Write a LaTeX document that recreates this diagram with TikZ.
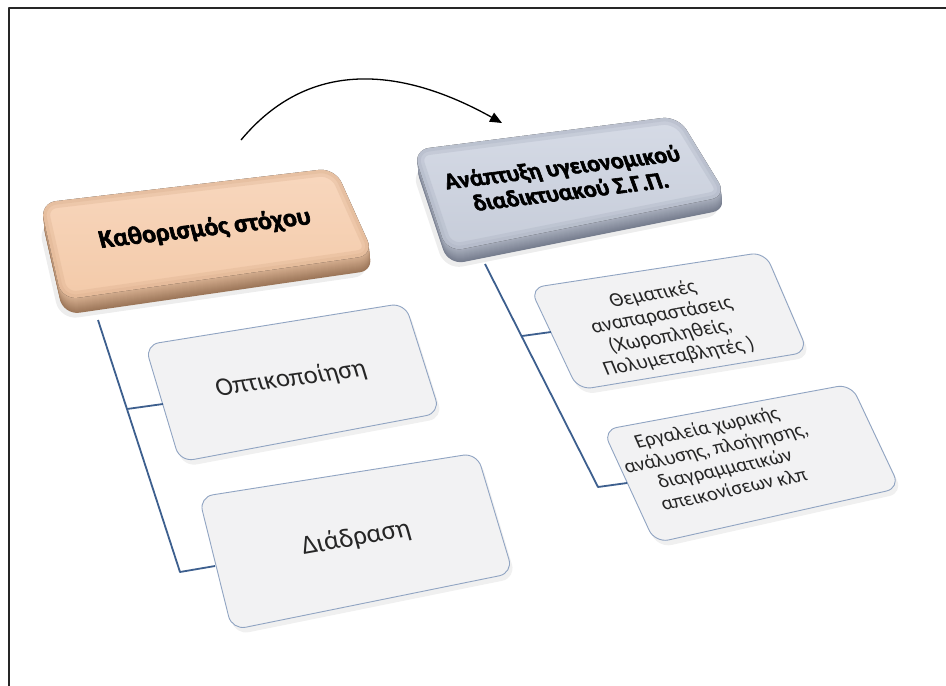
\documentclass[tikz,border=0pt]{standalone}
\usepackage{fontspec}
\setmainfont{Carlito}
\newfontfamily\childfont{Carlito}
\newfontfamily\headfont{Carlito}[FakeBold=2.5]
\usetikzlibrary{arrows.meta}

% set a line glyph by glyph, so that every letter follows the tilted baseline
\ExplSyntaxOn
\NewDocumentCommand \glyphwise { m }
  {
    \seq_set_split:Nnn \l_tmpa_seq { ~ } { #1 }
    \seq_map_indexed_inline:Nn \l_tmpa_seq
      {
        \int_compare:nNnT { ##1 } > { 1 } { \c_space_token }
        \tl_map_inline:nn { ##2 } { ####1 \kern0pt }
      }
  }
\ExplSyntaxOff

\definecolor{peachface}{HTML}{F3CAA9}
\definecolor{peachlight}{HTML}{F8D7BE}
\definecolor{peachedge}{HTML}{D9AD8B}
\definecolor{peachside}{HTML}{9C7659}
\definecolor{peachsidelight}{HTML}{D6AF90}
\definecolor{slateface}{HTML}{C6CCD9}
\definecolor{slatelight}{HTML}{D6DBE6}
\definecolor{slateedge}{HTML}{A7AEBE}
\definecolor{slateside}{HTML}{767D8E}
\definecolor{slatesidelight}{HTML}{A9AFBD}
\definecolor{cardfill}{HTML}{F2F2F3}
\definecolor{cardedge}{HTML}{90A4C2}
\definecolor{linkblue}{HTML}{3D5F8E}

% outlines of the faces (pixel units, y pointing down)
\def\faceL{(40,203) -- (335,168) -- (374,255) -- (62,300) -- cycle}
\def\faceR{(413,150) -- (678,116) -- (727,196) -- (447,252) -- cycle}
\def\cardA{(145,345) -- (405,303) -- (440,413) -- (180,462) -- cycle}
\def\cardB{(199,497) -- (477,453) -- (513,573) -- (232,630) -- cycle}
\def\cardC{(530,288) -- (765,252) -- (808,352) -- (578,390) -- cycle}
\def\cardD{(603,430) -- (851,384) -- (900,488) -- (655,543) -- cycle}

\tikzset{
  headtxt/.style={font=\headfont\bfseries, align=center, text=black, inner sep=0pt},
  childtxt/.style={font=\childfont, align=center, text=black!85, inner sep=0pt},
  link/.style={draw=linkblue, line width=1.8pt},
  card/.style={draw=cardedge, line width=0.9pt, fill=cardfill, rounded corners=14pt},
  cardshadow/.style={fill=black, opacity=0.06, rounded corners=14pt},
}

\begin{document}
\begin{tikzpicture}[x=1pt, y=-1pt, line join=round]
\useasboundingbox (0,0) rectangle (946,686);
\fill[white] (0,0) rectangle (946,686);

% page frame (left and top rules)
\draw[line width=2.6pt, black!85] (9,686) -- (9,8) -- (946,8);

% ---------- first stage block (peach) ----------
\fill[black, opacity=0.07, rounded corners=18pt, shift={(-2,20)}] \faceL;
\foreach \k in {15,14,...,1}{
  \pgfmathsetmacro\mix{100*\k/15}
  \fill[peachside!\mix!peachsidelight, rounded corners=16pt, shift={(\k*0.1,\k)}] \faceL;
}
\fill[rounded corners=16pt, top color=peachlight, bottom color=peachface] \faceL;
\begin{scope}
  \clip[rounded corners=16pt] \faceL;
  \draw[peachedge, opacity=0.3, line width=14pt, rounded corners=16pt] \faceL;
  \draw[peachedge, opacity=0.3, line width=7pt, rounded corners=16pt] \faceL;
\end{scope}

% ---------- second stage block (slate) ----------
\fill[black, opacity=0.07, rounded corners=18pt, shift={(-2,18)}] \faceR;
\foreach \k in {13,12,...,1}{
  \pgfmathsetmacro\mix{100*\k/13}
  \fill[slateside!\mix!slatesidelight, rounded corners=16pt, shift={(\k*0.1,\k)}] \faceR;
}
\fill[rounded corners=16pt, top color=slatelight, bottom color=slateface] \faceR;
\begin{scope}
  \clip[rounded corners=16pt] \faceR;
  \draw[slateedge, opacity=0.3, line width=14pt, rounded corners=16pt] \faceR;
  \draw[slateedge, opacity=0.3, line width=7pt, rounded corners=16pt] \faceR;
\end{scope}

% ---------- cards ----------
\fill[cardshadow, shift={(3,5)}] \cardA;
\path[card] \cardA;
\fill[cardshadow, shift={(3,5)}] \cardB;
\path[card] \cardB;
\fill[cardshadow, shift={(3,5)}] \cardC;
\path[card] \cardC;
\fill[cardshadow, shift={(3,5)}] \cardD;
\path[card] \cardD;

% ---------- texts (each set in the tilted plane of its block) ----------
\begin{scope}[shift={(205,229)}]
  \node[headtxt, rotate=6.5, xslant=-0.142,
        font=\headfont\bfseries\fontsize{25.5}{28}\selectfont]
    (goal) at (0,0) {\glyphwise{Καθορισμός στόχου}};
\end{scope}
\begin{scope}[shift={(566,179)}]
  \node[headtxt, rotate=7, xslant=-0.227,
        font=\headfont\bfseries\fontsize{23.5}{25}\selectfont]
    (gis) at (0,0) {\glyphwise{Ανάπτυξη υγειονομικού}\\\glyphwise{διαδικτυακού Σ.Γ.Π.}};
\end{scope}
\begin{scope}[shift={(291,379)}]
  \node[childtxt, rotate=8, xslant=-0.153,
        font=\childfont\fontsize{26}{28}\selectfont]
    (vis) at (0,0) {\glyphwise{Οπτικοποίηση}};
\end{scope}
\begin{scope}[shift={(356,538)}]
  \node[childtxt, rotate=10, xslant=-0.099,
        font=\childfont\fontsize{27}{30}\selectfont]
    (inter) at (0,0) {\glyphwise{Διάδραση}};
\end{scope}
\begin{scope}[shift={(666,326)}]
  \node[childtxt, rotate=10, xslant=-0.227,
        font=\childfont\fontsize{20.5}{22}\selectfont]
    (thema) at (0,0) {\glyphwise{Θεματικές}\\\glyphwise{αναπαραστάσεις}\\
      \glyphwise{(Χωροπληθείς,}\\\glyphwise{Πολυμεταβλητές )}};
\end{scope}
\begin{scope}[shift={(720,458)}]
  \node[childtxt, rotate=12, xslant=-0.208,
        font=\childfont\fontsize{20}{22}\selectfont]
    (tools) at (0,0) {\glyphwise{Εργαλεία χωρικής}\\\glyphwise{ανάλυσης, πλοήγησης,}\\
      \glyphwise{διαγραμματικών}\\\glyphwise{απεικονίσεων κλπ}};
\end{scope}

% ---------- connectors ----------
\coordinate (Ltop) at (98,320);
\coordinate (Lbot) at (180,572);
\coordinate (Lend) at (215,566);
\coordinate (Lbr)  at (127,409);
\coordinate (Lbre) at (163,404);
\coordinate (Rtop) at (485,264);
\coordinate (Rbot) at (598,487);
\coordinate (Rend) at (627,483);
\coordinate (Rbr)  at (522,336);
\coordinate (Rbre) at (551,332);
\draw[link] (Ltop) -- (Lbot) -- (Lend);
\draw[link] (Lbr) -- (Lbre);
\draw[link] (Rtop) -- (Rbot) -- (Rend);
\draw[link] (Rbr) -- (Rbre);

% ---------- curved arrow between the stages ----------
\coordinate (arrS) at (241,140);
\coordinate (arrE) at (502,123);
\draw[black, line width=1.3pt, -{Triangle[length=12pt, width=10pt]}]
  (arrS) .. controls (320,45) and (425,80) .. (arrE);
\end{tikzpicture}
\end{document}
